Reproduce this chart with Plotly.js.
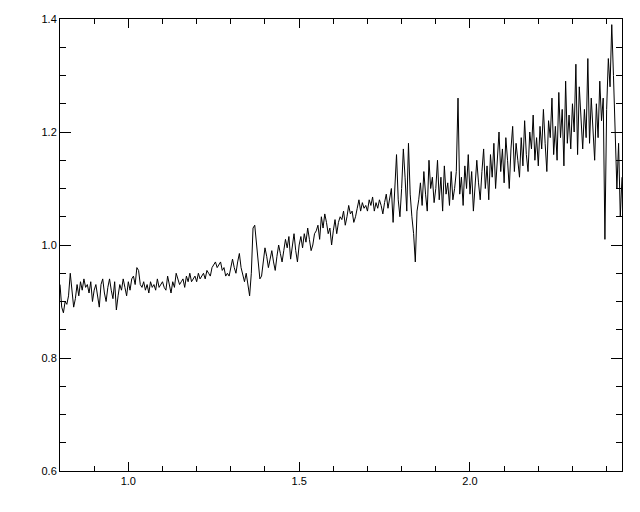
<!DOCTYPE html>
<html>
<head>
<meta charset="utf-8">
<script src="https://cdn.plot.ly/plotly-3.0.1.min.js"></script>
<style>html,body{margin:0;padding:0;background:#fff;}#chart{width:640px;height:512px;}</style>
</head>
<body>
<div id="chart"></div>
<script>
// x grid: start and step of the sampled spectrum
const xStart = 0.80;
const xStep = 0.005;

// flux values, 10 samples per 0.05 in x
const flux_080 = [0.93,0.89,0.88,0.90,0.895,0.91,0.95,0.92,0.89,0.905];
const flux_085 = [0.93,0.91,0.935,0.92,0.94,0.925,0.93,0.915,0.935,0.90];
const flux_090 = [0.92,0.93,0.905,0.89,0.93,0.94,0.915,0.90,0.925,0.94];
const flux_095 = [0.92,0.905,0.935,0.885,0.91,0.93,0.92,0.94,0.925,0.91];
const flux_100 = [0.935,0.92,0.94,0.945,0.93,0.96,0.955,0.93,0.925,0.935];
const flux_105 = [0.92,0.93,0.915,0.935,0.925,0.93,0.92,0.94,0.925,0.93];
const flux_110 = [0.935,0.925,0.92,0.945,0.93,0.915,0.935,0.925,0.95,0.94];
const flux_115 = [0.93,0.935,0.94,0.925,0.945,0.935,0.95,0.935,0.94,0.945];
const flux_120 = [0.935,0.95,0.94,0.945,0.95,0.94,0.955,0.95,0.945,0.96];
const flux_125 = [0.965,0.97,0.96,0.965,0.97,0.955,0.96,0.945,0.95,0.945];
const flux_130 = [0.96,0.975,0.96,0.95,0.97,0.985,0.96,0.945,0.935,0.95];
const flux_135 = [0.93,0.91,0.95,1.03,1.035,1.00,0.96,0.94,0.945,0.97];
const flux_140 = [0.995,0.98,0.96,0.975,0.99,0.97,0.955,0.98,1.00,0.985];
const flux_145 = [0.97,0.99,1.01,0.995,1.015,0.975,1.00,1.02,0.99,0.97];
const flux_150 = [1.00,1.015,0.995,1.02,1.005,1.03,1.01,0.99,1.00,1.02];
const flux_155 = [1.025,1.035,1.01,1.05,1.03,1.055,1.04,1.02,1.03,1.00];
const flux_160 = [1.025,1.045,1.02,1.04,1.05,1.045,1.06,1.035,1.05,1.07];
const flux_165 = [1.055,1.06,1.04,1.05,1.065,1.08,1.06,1.075,1.065,1.07];
const flux_170 = [1.06,1.08,1.07,1.085,1.06,1.075,1.065,1.08,1.07,1.055];
const flux_175 = [1.075,1.09,1.065,1.08,1.10,1.04,1.09,1.16,1.08,1.05];
const flux_180 = [1.10,1.17,1.12,1.06,1.18,1.09,1.05,1.02,0.97,1.06];
const flux_185 = [1.08,1.11,1.07,1.13,1.09,1.06,1.15,1.10,1.12,1.075];
const flux_190 = [1.10,1.15,1.08,1.12,1.06,1.14,1.09,1.11,1.07,1.13];
const flux_195 = [1.08,1.10,1.13,1.26,1.09,1.12,1.07,1.14,1.10,1.16];
const flux_200 = [1.09,1.13,1.06,1.10,1.15,1.11,1.08,1.13,1.17,1.10];
const flux_205 = [1.14,1.08,1.16,1.12,1.18,1.10,1.15,1.20,1.13,1.17];
const flux_210 = [1.11,1.19,1.15,1.10,1.17,1.21,1.13,1.18,1.15,1.12];
const flux_215 = [1.19,1.14,1.22,1.16,1.13,1.20,1.17,1.23,1.15,1.19];
const flux_220 = [1.14,1.21,1.17,1.24,1.18,1.13,1.22,1.19,1.26,1.16];
const flux_225 = [1.21,1.15,1.27,1.19,1.24,1.14,1.29,1.18,1.23,1.17];
const flux_230 = [1.25,1.20,1.32,1.16,1.28,1.21,1.17,1.24,1.19,1.33];
const flux_235 = [1.18,1.26,1.20,1.15,1.25,1.19,1.29,1.22,1.26,1.01];
const flux_240 = [1.24,1.33,1.28,1.39,1.30,1.21,1.10,1.18,1.05,1.12];

const flux = [].concat(flux_080,flux_085,flux_090,flux_095,flux_100,flux_105,flux_110,flux_115,
  flux_120,flux_125,flux_130,flux_135,flux_140,flux_145,flux_150,flux_155,flux_160,flux_165,
  flux_170,flux_175,flux_180,flux_185,flux_190,flux_195,flux_200,flux_205,flux_210,flux_215,
  flux_220,flux_225,flux_230,flux_235,flux_240);
const wave = flux.map((_, i) => +(xStart + i * xStep).toFixed(4));

const xTickVals = [1.0, 1.5, 2.0];
const xTickText = ['1.0', '1.5', '2.0'];
const yTickVals = [0.6, 0.8, 1.0, 1.2, 1.4];
const yTickText = ['0.6', '0.8', '1.0', '1.2', '1.4'];

const font = {family: 'Liberation Sans, Arial, sans-serif', size: 11, color: '#000'};

Plotly.newPlot('chart', [{
  x: wave, y: flux, type: 'scatter', mode: 'lines',
  line: {color: '#000', width: 1}, hoverinfo: 'skip'
}], {
  width: 640, height: 512,
  margin: {l: 60, r: 18, t: 19, b: 41},
  paper_bgcolor: '#fff', plot_bgcolor: '#fff',
  showlegend: false,
  font: font,
  xaxis: {
    range: [0.80, 2.445], showgrid: false, zeroline: false,
    showline: true, linecolor: '#000', linewidth: 1, mirror: 'ticks',
    ticks: 'inside', ticklen: 9, tickwidth: 1, tickcolor: '#000',
    tickmode: 'array', tickvals: xTickVals, ticktext: xTickText,
    tickfont: font,
    minor: {dtick: 0.1, tick0: 0, ticks: 'inside', ticklen: 5, tickwidth: 1, tickcolor: '#000', showgrid: false}
  },
  yaxis: {
    range: [0.6, 1.4], showgrid: false, zeroline: false,
    showline: true, linecolor: '#000', linewidth: 1, mirror: 'ticks',
    ticks: 'inside', ticklen: 11, tickwidth: 1, tickcolor: '#000',
    tickmode: 'array', tickvals: yTickVals, ticktext: yTickText,
    tickfont: font,
    minor: {dtick: 0.05, tick0: 0, ticks: 'inside', ticklen: 6, tickwidth: 1, tickcolor: '#000', showgrid: false}
  }
}, {staticPlot: true});
</script>
</body>
</html>
